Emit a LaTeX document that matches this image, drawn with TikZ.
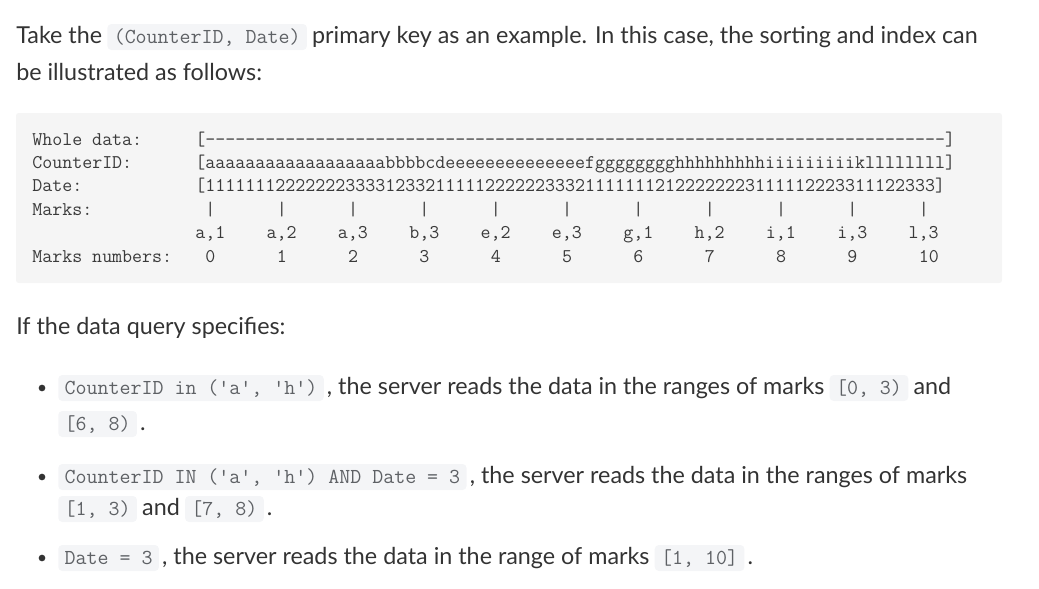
\documentclass[tikz,border=0pt]{standalone}
\usepackage{fontspec}
\setmainfont{Lato}
\usetikzlibrary{positioning}
\definecolor{ink}{HTML}{333333}
\definecolor{codeink}{HTML}{3A3A3A}
\definecolor{chipink}{HTML}{5E6165}
\definecolor{blockbg}{HTML}{F5F5F5}
\definecolor{chipbg}{HTML}{F4F5F7}
\newcommand\pitch{10.19}
\newcommand\dashrun[1]{\foreach\k in {1,...,#1}{-\kern0pt}}
\tikzset{
  body/.style={anchor=base west, inner sep=0pt, text=ink, font=\fontsize{17.5pt}{20pt}\selectfont},
  chip/.style={anchor=base west, fill=chipbg, rounded corners=3pt, text=chipink,
    font=\fontsize{16pt}{18pt}\ttfamily, inner xsep=4.8pt, inner ysep=1.5pt,
    text height=12.75pt, text depth=3.75pt},
  mono/.style={anchor=base west, inner sep=0pt, text=codeink, font=\fontsize{14.56pt}{16pt}\ttfamily},
  dot/.style={circle, fill=ink, inner sep=0pt, minimum size=5pt},
}
\begin{document}
\begin{tikzpicture}[x=0.75pt, y=-0.75pt]
  \useasboundingbox (0,0) rectangle (1039,589);
  % opening paragraph
  \node[body] (intro1) at (16,43) {Take the};
  \node[chip] (keychip) at ([xshift=3.5pt]intro1.base east) {(CounterID, Date)};
  \node[body] (intro2) at ([xshift=3.5pt]keychip.base east) {primary key as an example. In this case, the sorting and index can};
  \node[body] (intro3) at (16,80) {be illustrated as follows:};

  % code block
  \fill[blockbg, rounded corners=2pt] (16,113) rectangle (1002,283);
  \node[mono] (lwhole) at (32,145)   {Whole data:};
  \node[mono] (lcid)   at (32,168.4) {CounterID:};
  \node[mono] (ldate)  at (32,191.8) {Date:};
  \node[mono] (lmarks) at (32,215.2) {Marks:};
  \node[mono] (lnums)  at (32,262)   {Marks numbers:};
  \node[mono] (dwhole) at ({32+16*\pitch},145)   {[\dashrun{74}]};
  \node[mono] (dcid)   at ({32+16*\pitch},168.4) {[aaaaaaaaaaaaaaaaaabbbbcdeeeeeeeeeeeeeefgggggggghhhhhhhhhiiiiiiiiikllllllll]};
  \node[mono] (ddate)  at ({32+16*\pitch},191.8) {[1111111222222233331233211111222222333211111112122222223111112223311122333]};
  \foreach \p/\q [count=\i from 0] in {a/1,a/2,a/3,b/3,e/2,e/3,g/1,h/2,i/1,i/3,l/3}{
    \node[mono] (bar\i) at ({32+(17+7*\i)*\pitch},215.2) {|};
    \node[mono] (key\i) at ({32+(16+7*\i)*\pitch},238.6) {\p,\q};
    \node[mono] (num\i) at ({32+(17+7*\i)*\pitch},262) {\i};
  }

  % query cases
  \node[body] (query) at (16,334) {If the data query specifies:};

  \node[dot] (dot1) at (42,388) {};
  \node[chip] (c1a) at (58,394) {CounterID in (\textquotesingle a\textquotesingle, \textquotesingle h\textquotesingle)};
  \node[body] (t1a) at ([xshift=2pt]c1a.base east) {, the server reads the data in the ranges of marks};
  \node[chip] (c1b) at ([xshift=3.5pt]t1a.base east) {[0, 3)};
  \node[body] (t1b) at ([xshift=3.5pt]c1b.base east) {and};
  \node[chip] (c1c) at (58,430) {[6, 8)};
  \node[body] (t1c) at ([xshift=2pt]c1c.base east) {.};

  \node[dot] (dot2) at (42,477) {};
  \node[chip] (c2a) at (58,483) {CounterID IN (\textquotesingle a\textquotesingle, \textquotesingle h\textquotesingle) AND Date = 3};
  \node[body] (t2a) at ([xshift=2pt]c2a.base east) {, the server reads the data in the ranges of marks};
  \node[chip] (c2b) at (58,515) {[1, 3)};
  \node[body] (t2b) at ([xshift=3.5pt]c2b.base east) {and};
  \node[chip] (c2c) at ([xshift=3.5pt]t2b.base east) {[7, 8)};
  \node[body] (t2c) at ([xshift=2pt]c2c.base east) {.};

  \node[dot] (dot3) at (42,558) {};
  \node[chip] (c3a) at (58,564) {Date = 3};
  \node[body] (t3a) at ([xshift=2pt]c3a.base east) {, the server reads the data in the range of marks};
  \node[chip] (c3b) at ([xshift=3.5pt]t3a.base east) {[1, 10]};
  \node[body] (t3b) at ([xshift=2pt]c3b.base east) {.};
\end{tikzpicture}
\end{document}
